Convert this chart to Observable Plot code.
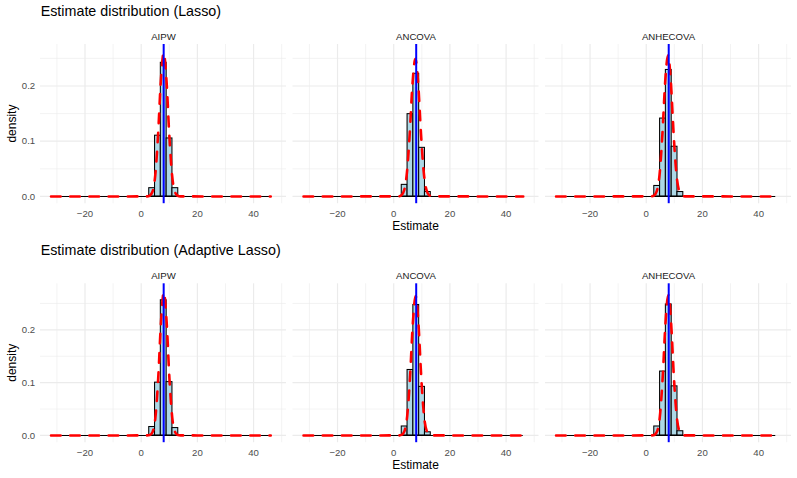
<!DOCTYPE html>
<html><head><meta charset="utf-8">
<script src="https://cdn.jsdelivr.net/npm/d3@7"></script>
<script src="https://cdn.jsdelivr.net/npm/@observablehq/plot@0.6"></script>
<style>
body{margin:0;background:#fff;}
#chart{width:797px;height:478px;overflow:hidden;}
svg{display:block}
</style></head><body><div id="chart"></div>
<script>
// ---- data ----
const methods = ["AIPW", "ANCOVA", "ANHECOVA"];
const rowTitles = ["Estimate distribution (Lasso)", "Estimate distribution (Adaptive Lasso)"];
const binEdges = [2.86, 4.93, 6.99, 9.06, 11.12, 13.19];
const trueValue = 8.0;
const curveRange = [-32.1, 46.1];
const xTicks = [-20, 0, 20, 40];
const xMinor = [-30, -10, 10, 30, 50];
const yTicks = [0, 0.1, 0.2];
const yMinor = [0.05, 0.15, 0.25];

// histogram densities (Lasso)
const lassoAIPW = [0.015, 0.110, 0.242, 0.105, 0.015];
const lassoANCOVA = [0.021, 0.149, 0.222, 0.088, 0.008];
const lassoANHECOVA = [0.019, 0.141, 0.229, 0.090, 0.008];
// histogram densities (Adaptive Lasso)
const alassoAIPW = [0.016, 0.100, 0.256, 0.101, 0.014];
const alassoANCOVA = [0.017, 0.124, 0.247, 0.092, 0.006];
const alassoANHECOVA = [0.017, 0.121, 0.248, 0.093, 0.008];

// dashed normal-density curves
const lassoAIPWCurveX = [-32.1, 2, 3, 4, 5, 6, 7, 8, 9, 10, 11, 12, 13, 14, 46.1];
const lassoAIPWCurveY = [0, 0.0001, 0.0013, 0.0085, 0.038, 0.111, 0.210, 0.260, 0.210, 0.111, 0.038, 0.0085, 0.0013, 0.0001, 0];
const lassoANCOVACurveX = [-32.1, 1.7, 2.7, 3.7, 4.7, 5.7, 6.7, 7.7, 8.7, 9.7, 10.7, 11.7, 12.7, 13.7, 46.1];
const lassoANCOVACurveY = [0, 0.0002, 0.0019, 0.0109, 0.043, 0.114, 0.205, 0.249, 0.205, 0.114, 0.043, 0.0109, 0.0019, 0.0002, 0];
const lassoANHECOVACurveX = [-32.1, 1.75, 2.75, 3.75, 4.75, 5.75, 6.75, 7.75, 8.75, 9.75, 10.75, 11.75, 12.75, 13.75, 46.1];
const lassoANHECOVACurveY = [0, 0.0002, 0.0015, 0.0095, 0.0402, 0.1124, 0.208, 0.2557, 0.208, 0.1124, 0.0402, 0.0095, 0.0015, 0.0002, 0];
const alassoAIPWCurveX = [-32.1, 2.05, 3.05, 4.05, 5.05, 6.05, 7.05, 8.05, 9.05, 10.05, 11.05, 12.05, 13.05, 14.05, 46.1];
const alassoAIPWCurveY = [0, 0.0001, 0.0008, 0.0067, 0.0338, 0.1076, 0.2153, 0.2714, 0.2153, 0.1076, 0.0338, 0.0067, 0.0008, 0.0001, 0];
const alassoANCOVACurveX = [-32.1, 1.8, 2.8, 3.8, 4.8, 5.8, 6.8, 7.8, 8.8, 9.8, 10.8, 11.8, 12.8, 13.8, 46.1];
const alassoANCOVACurveY = [0, 0.0001, 0.0011, 0.0079, 0.0367, 0.1099, 0.2122, 0.2642, 0.2122, 0.1099, 0.0367, 0.0079, 0.0011, 0.0001, 0];
const alassoANHECOVACurveX = [-32.1, 1.85, 2.85, 3.85, 4.85, 5.85, 6.85, 7.85, 8.85, 9.85, 10.85, 11.85, 12.85, 13.85, 46.1];
const alassoANHECOVACurveY = [0, 0.0001, 0.001, 0.0076, 0.036, 0.1094, 0.213, 0.266, 0.213, 0.1094, 0.036, 0.0076, 0.001, 0.0001, 0];

// ---- chart ----
const FONT = '"Liberation Sans", Arial, Helvetica, sans-serif';
const fmtX = d => d < 0 ? "\u2212" + Math.abs(d) : String(d);
const ROW_H = 239;

function makeRow(title, heights, curves, yDomain, marginTop) {
  const bars = [];
  methods.forEach((m, i) => heights[i].forEach((h, j) =>
    bars.push({method: m, x1: binEdges[j], x2: binEdges[j + 1], h})));
  const curve = [];
  methods.forEach((m, i) => curves[i][0].forEach((x, j) =>
    curve.push({method: m, x, y: curves[i][1][j]})));
  const base = [{y: 0, x1: curveRange[0], x2: curveRange[1]}];

  const svg = Plot.plot({
    width: 797, height: ROW_H,
    marginTop, marginBottom: 35.8, marginLeft: 40, marginRight: 6,
    style: {fontFamily: FONT, fontSize: "9.6px", color: "#4D4D4D", background: "#fff", overflow: "visible"},
    fx: {domain: methods, paddingInner: 0.026, paddingOuter: 0, round: false, label: null},
    x: {domain: [-35.84, 51.7]},
    y: {domain: yDomain},
    marks: [
      Plot.ruleX(xMinor, {stroke: "#EBEBEB", strokeWidth: 0.6}),
      Plot.ruleY(yMinor, {stroke: "#EBEBEB", strokeWidth: 0.6}),
      Plot.ruleX(xTicks, {stroke: "#EBEBEB", strokeWidth: 1.2}),
      Plot.ruleY(yTicks, {stroke: "#EBEBEB", strokeWidth: 1.2}),
      Plot.ruleY(base, {y: "y", x1: "x1", x2: "x2", stroke: "black", strokeWidth: 1.05}),
      Plot.rectY(bars, {fx: "method", x1: "x1", x2: "x2", y: "h", fill: "#ADD8E6", stroke: "black", strokeWidth: 1.05}),
      Plot.line(curve, {fx: "method", x: "x", y: "y", stroke: "red", strokeWidth: 2.6,
        strokeDasharray: "9.6,9.6", strokeLinecap: "round", curve: "monotone-x"}),
      Plot.ruleX([trueValue], {stroke: "blue", strokeWidth: 2}),
      Plot.axisX({ticks: xTicks, tickSize: 0, tickPadding: 6.5, label: null, tickFormat: fmtX, fontSize: 9.6}),
      Plot.axisY({ticks: yTicks, tickSize: 0, tickPadding: 5.3, label: null, tickFormat: d => d.toFixed(1), fontSize: 9.6}),
      Plot.axisFx({anchor: "top", tickSize: 0, tickPadding: 4.7, label: null, fill: "#1A1A1A", fontSize: 9.6})
    ]
  });
  const s = d3.select(svg);
  s.append("text").attr("x", 40.7).attr("y", 16.3).attr("font-size", 14.3)
    .attr("text-anchor", "start")
    .attr("fill", "black").attr("font-family", FONT).text(title);
  const panelMid = (marginTop + (ROW_H - 35.8)) / 2;
  s.append("text").attr("transform", `translate(15.5,${panelMid}) rotate(-90)`)
    .attr("text-anchor", "middle").attr("font-size", 12).attr("fill", "black")
    .attr("font-family", FONT).text("density");
  s.append("text").attr("x", 415.5).attr("y", 229.8).attr("text-anchor", "middle")
    .attr("font-size", 12).attr("fill", "black").attr("font-family", FONT).text("Estimate");
  return svg;
}

const root = document.getElementById("chart");
root.appendChild(makeRow(rowTitles[0],
  [lassoAIPW, lassoANCOVA, lassoANHECOVA],
  [[lassoAIPWCurveX, lassoAIPWCurveY], [lassoANCOVACurveX, lassoANCOVACurveY], [lassoANHECOVACurveX, lassoANHECOVACurveY]],
  [-0.0131, 0.2751], 44));
root.appendChild(makeRow(rowTitles[1],
  [alassoAIPW, alassoANCOVA, alassoANHECOVA],
  [[alassoAIPWCurveX, alassoAIPWCurveY], [alassoANCOVACurveX, alassoANCOVACurveY], [alassoANHECOVACurveX, alassoANHECOVACurveY]],
  [-0.0137, 0.2872], 44.3));
</script></body></html>
